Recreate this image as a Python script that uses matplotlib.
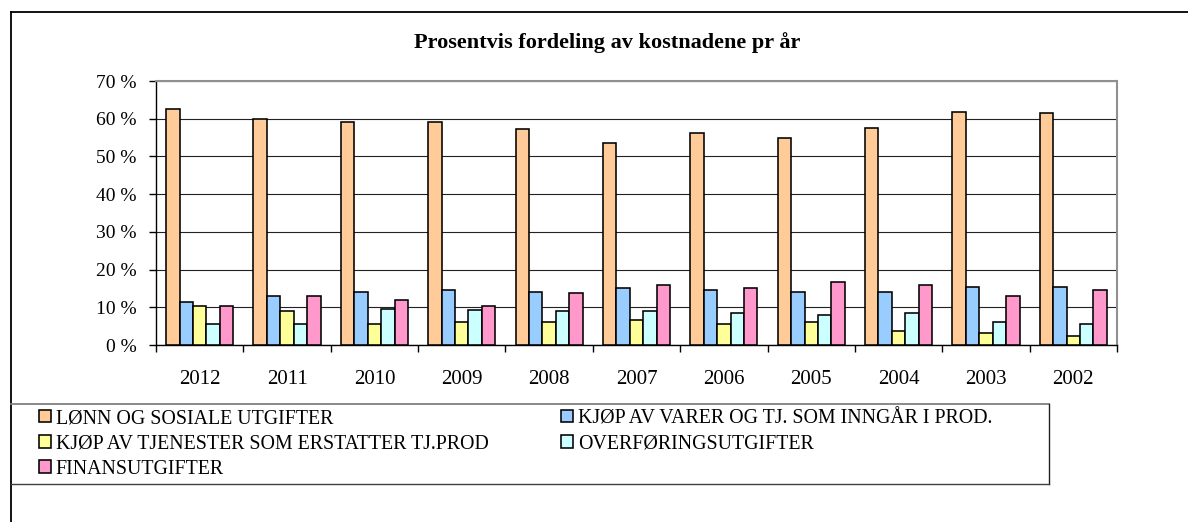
import matplotlib
matplotlib.use("Agg")
import matplotlib.pyplot as plt
import numpy as np
from matplotlib.lines import Line2D

years = ["2012", "2011", "2010", "2009", "2008", "2007", "2006", "2005", "2004", "2003", "2002"]
series_names = [
    "LØNN OG SOSIALE UTGIFTER",
    "KJØP AV VARER OG TJ. SOM INNGÅR I PROD.",
    "KJØP AV TJENESTER SOM ERSTATTER TJ.PROD",
    "OVERFØRINGSUTGIFTER",
    "FINANSUTGIFTER",
]
lonn = [62.7, 59.9, 59.0, 59.0, 57.2, 53.5, 56.2, 54.8, 57.6, 61.9, 61.4]
varer = [11.3, 13.1, 14.1, 14.5, 14.1, 15.0, 14.5, 14.1, 14.1, 15.4, 15.4]
tjenester = [10.3, 9.0, 5.6, 6.0, 6.0, 6.5, 5.6, 6.0, 3.7, 3.2, 2.3]
overforing = [5.6, 5.6, 9.5, 9.4, 8.9, 8.9, 8.4, 7.9, 8.4, 6.0, 5.6]
finans = [10.3, 13.1, 11.8, 10.3, 13.7, 15.9, 15.0, 16.8, 15.9, 13.0, 14.5]
values = [lonn, varer, tjenester, overforing, finans]
colors = ["#FFCC99", "#99CCFF", "#FFFF99", "#CCFFFF", "#FF99CC"]
yticks = [0, 10, 20, 30, 40, 50, 60, 70]
title = "Prosentvis fordeling av kostnadene pr år"

plt.rcParams["font.family"] = ["Liberation Serif", "DejaVu Serif"]

W, H = 1188, 522
fig = plt.figure(figsize=(W / 100, H / 100), dpi=100)
fig.patch.set_facecolor("white")

def fx(px):
    return px / W

def fy(py):
    return 1 - py / H

ax = fig.add_axes([fx(156), fy(345), fx(1117) - fx(156), fy(81) - fy(345)])

x = np.arange(len(years))
w = 1 / 6.5
handles = []
for j, (vals, c) in enumerate(zip(values, colors)):
    b = ax.bar(x + (j - 2) * w, vals, w, color=c, edgecolor="black", linewidth=1.15, zorder=3)
    handles.append(b)

ax.set_xlim(-0.5, len(years) - 0.5)
ax.set_ylim(0, 70)
ax.set_yticks(yticks)
ax.set_yticklabels([f"{v} %" for v in yticks], fontsize=14)
ax.set_xticks(x)
ax.set_xticklabels(years, fontsize=15)
ax.set_xticks(np.arange(-0.5, len(years), 1.0), minor=True)
ax.tick_params(axis="x", which="major", length=0, pad=18)
ax.tick_params(axis="x", which="minor", length=5, width=1, direction="out", color="black")
ax.tick_params(axis="y", which="major", length=5, width=1, direction="out", pad=9)
ax.yaxis.grid(True, color="#222222", linewidth=0.8, zorder=0)
ax.set_axisbelow(True)
for s in ["top", "right"]:
    ax.spines[s].set_color("#909090")
    ax.spines[s].set_linewidth(1.5)
for s in ["left", "bottom"]:
    ax.spines[s].set_color("black")
    ax.spines[s].set_linewidth(1.0)

fig.text(fx(607), fy(43), title, ha="center", va="center", fontsize=16, fontweight="bold")

# outer chart frame
fig.add_artist(Line2D([fx(11), fx(11)], [fy(12), 0], transform=fig.transFigure, color="black", lw=1.3))
fig.add_artist(Line2D([fx(11), 1], [fy(12), fy(12)], transform=fig.transFigure, color="black", lw=1.3))

# legend frame
fig.add_artist(Line2D([fx(11), fx(1049)], [fy(404), fy(404)], transform=fig.transFigure, color="#808080", lw=1.3))
fig.add_artist(Line2D([fx(1049), fx(1049)], [fy(404), fy(484)], transform=fig.transFigure, color="#202020", lw=1.0))
fig.add_artist(Line2D([fx(11), fx(1049)], [fy(484), fy(484)], transform=fig.transFigure, color="#404040", lw=1.0))

leg_kw = dict(frameon=False, fontsize=14.3, handlelength=0.6, handleheight=0.6,
              handletextpad=0.25, labelspacing=0.32, borderpad=0, borderaxespad=0,
              loc="upper left")
h1 = [handles[i] for i in (0, 2, 4)]
l1 = [series_names[i] for i in (0, 2, 4)]
h2 = [handles[i] for i in (1, 3)]
l2 = [series_names[i] for i in (1, 3)]
fig.legend(h1, l1, bbox_to_anchor=(fx(39), fy(409)), **leg_kw)
fig.legend(h2, l2, bbox_to_anchor=(fx(561), fy(409)), **leg_kw)

fig.savefig("out.png", dpi=100)
